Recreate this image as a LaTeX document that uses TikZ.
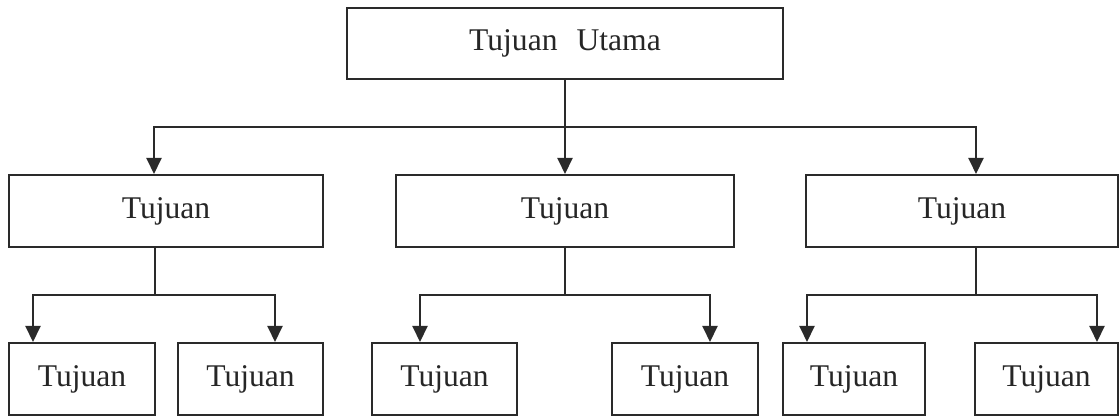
\documentclass[tikz,border=0pt]{standalone}
\usepackage{fontspec}
\setmainfont{Liberation Serif}
\usetikzlibrary{positioning,arrows.meta}
\definecolor{linegray}{HTML}{2a2a2a}

\begin{document}
\begin{tikzpicture}[
  x=0.5pt, y=-0.5pt,
  box/.style={rectangle, draw=linegray, line width=1pt, inner sep=0pt,
    minimum height=36pt, text=black!85, font=\fontsize{15.8}{18}\selectfont},
  link/.style={draw=linegray, line width=1pt},
  arr/.style={link, -{Triangle[width=7.5pt,length=8pt]}}
]
\useasboundingbox (0,0) rectangle (1119,416);

\node[box, minimum width=218pt, minimum height=35.5pt] (u) at (565,43.5) {Tujuan\hspace{0.6em}Utama};

\node[box, minimum width=157pt] (a) at (166,211) {Tujuan};
\node[box, minimum width=169pt] (b) at (565,211) {Tujuan};
\node[box, minimum width=156pt] (c) at (962,211) {Tujuan};

\node[box, minimum width=73pt] (a1) at (82,379) {Tujuan};
\node[box, minimum width=72.5pt] (a2) at (250.5,379) {Tujuan};
\node[box, minimum width=72.5pt] (b1) at (444.5,379) {Tujuan};
\node[box, minimum width=73pt] (b2) at (685,379) {Tujuan};
\node[box, minimum width=71pt] (c1) at (854,379) {Tujuan};
\node[box, minimum width=71.5pt] (c2) at (1046.5,379) {Tujuan};

\coordinate (j) at (565,127);
\coordinate (ja) at (155,295);
\coordinate (jb) at (565,295);
\coordinate (jc) at (976,295);

\draw[link] (u.south) -- (j);
\draw[arr] (j) -| ([xshift=-6pt]a.north);
\draw[arr] (j) -- (b.north);
\draw[arr] (j) -| ([xshift=7pt]c.north);

\draw[link] ([xshift=-5.5pt]a.south) -- (ja);
\draw[arr] (ja) -| ([xshift=-24.5pt]a1.north);
\draw[arr] (ja) -| ([xshift=12.25pt]a2.north);

\draw[link] (b.south) -- (jb);
\draw[arr] (jb) -| ([xshift=-12.25pt]b1.north);
\draw[arr] (jb) -| ([xshift=12.5pt]b2.north);

\draw[link] ([xshift=7pt]c.south) -- (jc);
\draw[arr] (jc) -| ([xshift=-23.5pt]c1.north);
\draw[arr] (jc) -| ([xshift=25.25pt]c2.north);
\end{tikzpicture}
\end{document}
